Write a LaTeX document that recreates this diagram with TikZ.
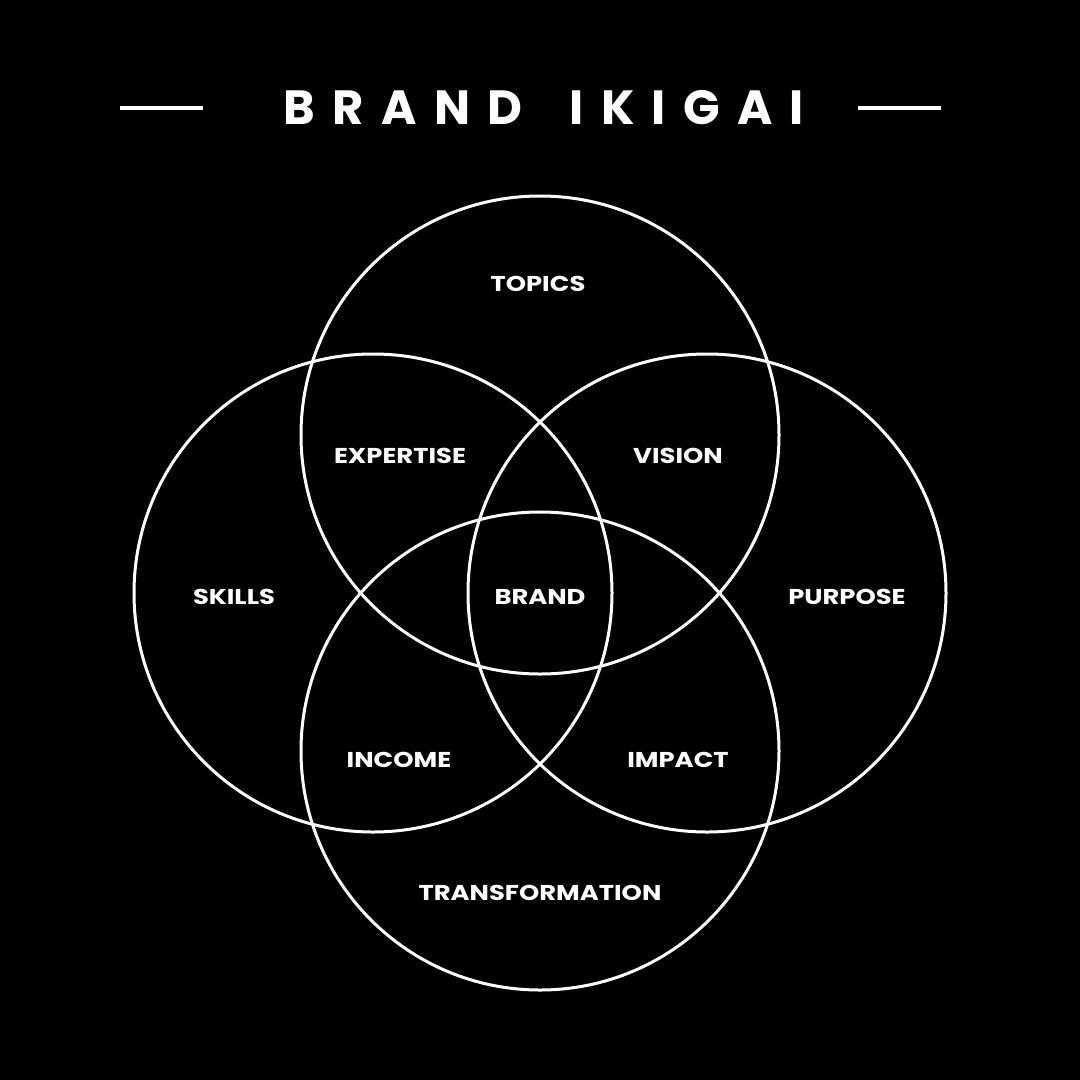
\documentclass[tikz,border=0pt]{standalone}
\usepackage{fontspec}
\setmainfont{Poppins}
\begin{document}
\begin{tikzpicture}[x=1pt,y=-1pt,
  ring/.style={draw=white,line width=3pt},
  lbl/.style={text=white,font=\fontsize{21.5}{21.5}\selectfont\bfseries\addfontfeature{FakeStretch=1.2},inner sep=0pt,anchor=center},
  rule/.style={draw=white,line width=3.5pt}]
\fill[black] (0,0) rectangle (1080,1080);
\useasboundingbox (0,0) rectangle (1080,1080);
\node[text=white,inner sep=0pt,font=\fontsize{48}{48}\selectfont\bfseries\addfontfeature{LetterSpace=36}] (title) at (544,108) {BRAND\hspace{20pt} IKIGAI};
\coordinate (l1) at (120,108); \coordinate (l2) at (203,108);
\coordinate (r1) at (858,108); \coordinate (r2) at (941,108);
\draw[rule] (l1) -- (l2);
\draw[rule] (r1) -- (r2);
\draw[ring] (540,435) circle (239);
\draw[ring] (373,593) circle (239);
\draw[ring] (707,593) circle (239);
\draw[ring] (540,751) circle (239);
\node[lbl] (topics) at (538,284) {TOPICS};
\node[lbl] (expertise) at (400,456) {EXPERTISE};
\node[lbl] (vision) at (678,456) {VISION};
\node[lbl] (skills) at (234,597) {SKILLS};
\node[lbl] (brand) at (540,597) {BRAND};
\node[lbl] (purpose) at (847,597) {PURPOSE};
\node[lbl] (income) at (399,760) {INCOME};
\node[lbl] (impact) at (678,760) {IMPACT};
\node[lbl] (transformation) at (540,893) {TRANSFORMATION};
\end{tikzpicture}
\end{document}
